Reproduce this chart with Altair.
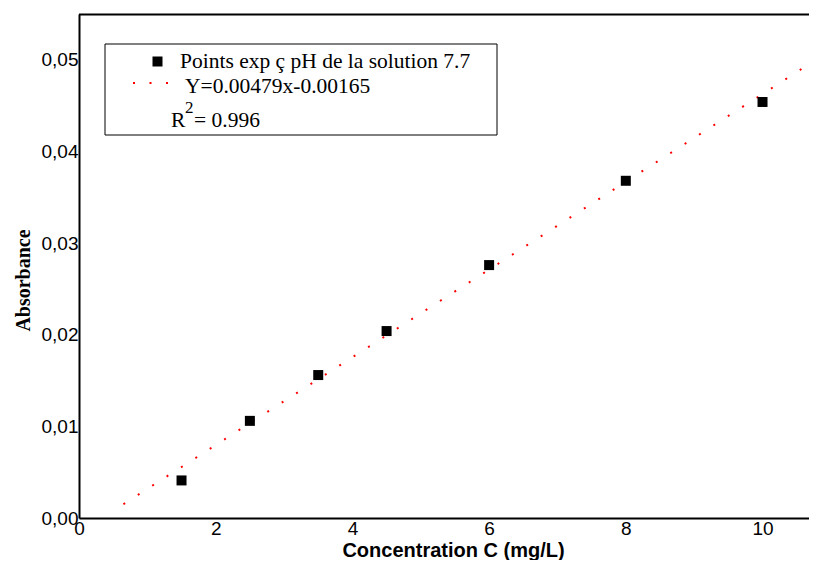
import altair as alt
import pandas as pd

# Experimental points
conc = [1.5, 2.5, 3.5, 4.5, 6, 8, 10]
absorb = [0.0041, 0.0106, 0.0156, 0.0204, 0.0276, 0.0368, 0.0454]

# Fitted line end points (as drawn)
line_x = [0.65, 10.8]
line_y = [0.0015, 0.0501]

x_ticks = [0, 2, 4, 6, 8, 10]
y_ticks = [0.0, 0.01, 0.02, 0.03, 0.04, 0.05]

legend_points = "Points exp ç pH de la solution 7.7"
legend_line = "Y=0.00479x-0.00165"
legend_r = "R"
legend_r_sup = "2"
legend_r_val = "= 0.996"

W, H = 730, 504
X_DOMAIN = [0, 10.68]
Y_DOMAIN = [0, 0.055]

pts = pd.DataFrame({"c": conc, "a": absorb})
fit = pd.DataFrame({"c": line_x, "a": line_y})
one = pd.DataFrame({"k": [0]})

x_scale = alt.Scale(domain=X_DOMAIN, nice=False, zero=False)
y_scale = alt.Scale(domain=Y_DOMAIN, nice=False, zero=False)

x_axis = alt.Axis(
    values=x_ticks, format="d", title="Concentration C (mg/L)", grid=False, ticks=False,
    labelFont="Liberation Sans", labelFontSize=19, labelPadding=1,
    labelFlush=False, labelOverlap=False, labelColor="black",
    domainColor="black", domainWidth=2,
    titleFont="Liberation Sans", titleFontSize=20, titleFontWeight="bold",
    titleColor="black", titleBaseline="alphabetic", titleY=38, titleX=374,
)
y_axis = alt.Axis(
    values=y_ticks, title="Absorbance", grid=False, ticks=False,
    labelExpr="replace(format(datum.value, '.2f'), '.', ',')",
    labelFont="Liberation Sans", labelFontSize=19, labelPadding=1,
    labelFlush=False, labelOverlap=False, labelColor="black",
    domainColor="black", domainWidth=2,
    titleFont="Liberation Serif", titleFontSize=20, titleFontWeight="bold",
    titleColor="black", titleAngle=270, titleBaseline="alphabetic",
    titleAlign="center", titleX=-50, titleY=266,
)

line = alt.Chart(fit).mark_line(
    color="#ff0000", strokeWidth=2, strokeDash=[2, 15.1], clip=True
).encode(
    x=alt.X("c:Q", scale=x_scale, axis=x_axis),
    y=alt.Y("a:Q", scale=y_scale, axis=y_axis),
)

points = alt.Chart(pts).mark_square(color="black", size=100, opacity=1).encode(
    x=alt.X("c:Q", scale=x_scale),
    y=alt.Y("a:Q", scale=y_scale),
)

top_rule = alt.Chart(one).mark_rule(color="black", strokeWidth=2).encode(
    x=alt.value(0), x2=alt.value(W), y=alt.value(0.5)
)

legend_box = alt.Chart(one).mark_rect(
    fill="white", stroke="black", strokeWidth=1
).encode(x=alt.value(26), x2=alt.value(418), y=alt.value(30), y2=alt.value(121))

legend_sq = alt.Chart(one).mark_square(color="black", size=100, opacity=1).encode(
    x=alt.value(78.5), y=alt.value(47.5)
)

legend_dash = alt.Chart(one).mark_rule(
    color="#ff0000", strokeWidth=2, strokeDash=[2, 14.5]
).encode(x=alt.value(54), x2=alt.value(102), y=alt.value(69))


def ltext(s, x, y, size=21.5):
    return alt.Chart(pd.DataFrame({"t": [s]})).mark_text(
        font="Liberation Serif", fontSize=size, align="left",
        baseline="alphabetic", color="black"
    ).encode(text="t:N", x=alt.value(x), y=alt.value(y))


chart = alt.layer(
    line,
    top_rule,
    legend_box,
    legend_sq,
    legend_dash,
    ltext(legend_points, 101, 54),
    ltext(legend_line, 106, 79),
    ltext(legend_r, 92, 113),
    ltext(legend_r_sup, 106, 99, 17),
    ltext(legend_r_val, 115, 113),
    points,
).properties(
    width=W, height=H,
    autosize=alt.AutoSizeParams(type="none"),
    padding={"left": 71, "top": 6, "right": 0, "bottom": 42},
).configure_view(stroke=None).configure(background="white")

chart.save("out.html", embed_options={"renderer": "svg", "actions": False})
